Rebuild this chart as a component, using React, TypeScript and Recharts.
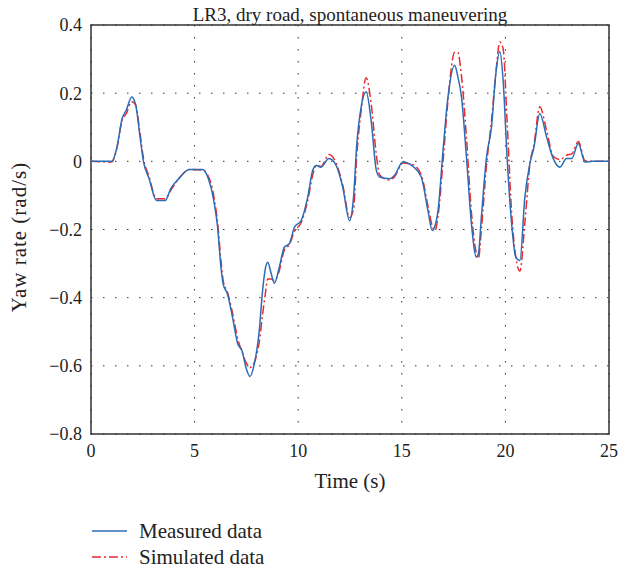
import React from 'react';
import { LineChart, Line, XAxis, YAxis, CartesianGrid, ReferenceArea } from 'recharts';

const time = [0, 1.0, 1.25, 1.5, 1.7, 1.97, 2.16, 2.35, 2.53, 2.8, 3.16, 3.58, 3.85, 4.25, 4.74, 5.38, 5.63, 5.95, 6.11, 6.27, 6.38, 6.59, 6.83, 7.08, 7.29, 7.48, 7.67, 7.88, 8.12, 8.28, 8.41, 8.53, 8.7, 8.85, 9.09, 9.33, 9.57, 9.82, 10.14, 10.46, 10.7, 10.87, 11.1, 11.48, 11.83, 12.15, 12.48, 12.67, 12.83, 13.04, 13.28, 13.52, 13.77, 13.93, 14.41, 14.65, 15.05, 15.54, 15.94, 16.26, 16.47, 16.6, 16.75, 16.99, 17.23, 17.55, 17.7, 17.88, 18.12, 18.36, 18.6, 18.7, 18.84, 19.09, 19.33, 19.54, 19.73, 19.89, 20.08, 20.3, 20.5, 20.7, 20.94, 21.18, 21.38, 21.66, 21.99, 22.31, 22.63, 22.95, 23.2, 23.52, 23.84, 24.2, 25];

const measured = [0, 0, 0.04, 0.125, 0.15, 0.189, 0.165, 0.08, 0, -0.05, -0.115, -0.115, -0.08, -0.05, -0.024, -0.024, -0.045, -0.124, -0.193, -0.31, -0.36, -0.39, -0.458, -0.535, -0.556, -0.605, -0.631, -0.595, -0.497, -0.38, -0.316, -0.296, -0.33, -0.358, -0.31, -0.252, -0.242, -0.193, -0.174, -0.105, -0.026, -0.012, -0.017, 0.008, -0.012, -0.076, -0.174, -0.105, 0.052, 0.16, 0.204, 0.12, -0.026, -0.046, -0.051, -0.041, -0.002, -0.015, -0.046, -0.144, -0.203, -0.19, -0.144, 0.032, 0.189, 0.282, 0.25, 0.189, 0.013, -0.183, -0.281, -0.27, -0.164, 0.013, 0.101, 0.258, 0.322, 0.238, 0.013, -0.183, -0.281, -0.291, -0.105, -0.007, 0.042, 0.14, 0.071, 0.008, -0.017, 0.008, 0.008, 0.052, -0.002, 0, 0];

const simulated = [0, -0.002, 0.04, 0.12, 0.14, 0.175, 0.165, 0.09, 0.01, -0.045, -0.11, -0.11, -0.085, -0.05, -0.024, -0.026, -0.04, -0.11, -0.18, -0.29, -0.35, -0.385, -0.445, -0.52, -0.56, -0.59, -0.605, -0.59, -0.53, -0.45, -0.39, -0.345, -0.345, -0.35, -0.32, -0.26, -0.245, -0.205, -0.18, -0.115, -0.04, -0.012, -0.015, 0.02, -0.005, -0.07, -0.165, -0.14, 0.02, 0.15, 0.245, 0.17, 0.02, -0.04, -0.055, -0.045, -0.005, -0.01, -0.04, -0.13, -0.19, -0.203, -0.16, 0.0, 0.18, 0.32, 0.32, 0.25, 0.07, -0.15, -0.27, -0.285, -0.2, -0.01, 0.12, 0.26, 0.35, 0.33, 0.12, -0.15, -0.28, -0.322, -0.18, -0.01, 0.05, 0.16, 0.09, 0.015, 0.005, 0.018, 0.022, 0.058, 0.002, 0, 0];

const xTicks = [0, 5, 10, 15, 20, 25];
const yTicks = [-0.8, -0.6, -0.4, -0.2, 0, 0.2, 0.4];
const title = 'LR3, dry road, spontaneous maneuvering';
const xLabel = 'Time (s)';
const yLabel = 'Yaw rate (rad/s)';
const seriesNames = ['Measured data', 'Simulated data'];

const BLUE = '#2b6cb5';
const RED = '#ea2a2f';
const FONT = '"Liberation Serif", "Times New Roman", serif';
const TEXT = '#222';

const data = time.map((t, i) => ({ t, measured: measured[i], simulated: simulated[i] }));

const fmtY = (v: number) => {
  if (Math.abs(v) < 1e-9) return '0';
  return v < 0 ? '\u2212' + Math.abs(v).toFixed(1) : v.toFixed(1);
};

export default function App() {
  return (
    <div style={{ position: 'absolute', left: 0, top: 0, width: 633, height: 569, background: '#fff', fontFamily: FONT }}>
      <LineChart width={633} height={569} data={data} margin={{ top: 25, right: 24, bottom: 75, left: 0 }}>
        <CartesianGrid stroke="#333" strokeDasharray="1.5 10.5" horizontalValues={yTicks} verticalValues={xTicks} />
        <XAxis
          dataKey="t"
          type="number"
          domain={[0, 25]}
          ticks={xTicks}
          height={60}
          axisLine={false}
          tickLine={false}
          tickSize={0}
          tickMargin={10}
          tick={{ fontSize: 18, fill: TEXT, fontFamily: FONT }}
          label={{ value: xLabel, position: 'insideBottom', offset: 6, fontSize: 21, fill: TEXT, fontFamily: FONT }}
        />
        <YAxis
          type="number"
          domain={[-0.8, 0.4]}
          ticks={yTicks}
          width={91}
          axisLine={false}
          tickLine={false}
          tickSize={0}
          tickMargin={9}
          tickFormatter={fmtY}
          tick={{ fontSize: 18, fill: TEXT, fontFamily: FONT }}
        />
        <ReferenceArea x1={0} x2={25} y1={-0.8} y2={0.4} fill="none" stroke="#333" strokeWidth={1.5} ifOverflow="visible" />
        <Line type="monotone" dataKey="simulated" stroke={RED} strokeWidth={1.5} strokeDasharray="9 3 2 3" dot={false} isAnimationActive={false} />
        <Line type="monotone" dataKey="measured" stroke={BLUE} strokeWidth={1.5} dot={false} isAnimationActive={false} />
      </LineChart>
      <svg width={633} height={569} style={{ position: 'absolute', left: 0, top: 0, pointerEvents: 'none' }}>
        <text x={350} y={21} textAnchor="middle" fontSize={19} fill={TEXT} fontFamily={FONT}>{title}</text>
        <text transform="translate(26,237) rotate(-90)" textAnchor="middle" fontSize={21} letterSpacing={1} fill={TEXT} fontFamily={FONT}>{yLabel}</text>
        <line x1={92} x2={127} y1={531} y2={531} stroke={BLUE} strokeWidth={1.5} />
        <text x={139} y={538} fontSize={21} fill={TEXT} fontFamily={FONT}>{seriesNames[0]}</text>
        <line x1={92} x2={127} y1={557} y2={557} stroke={RED} strokeWidth={1.5} strokeDasharray="9 3 2 3" />
        <text x={139} y={564} fontSize={21} fill={TEXT} fontFamily={FONT}>{seriesNames[1]}</text>
      </svg>
    </div>
  );
}
